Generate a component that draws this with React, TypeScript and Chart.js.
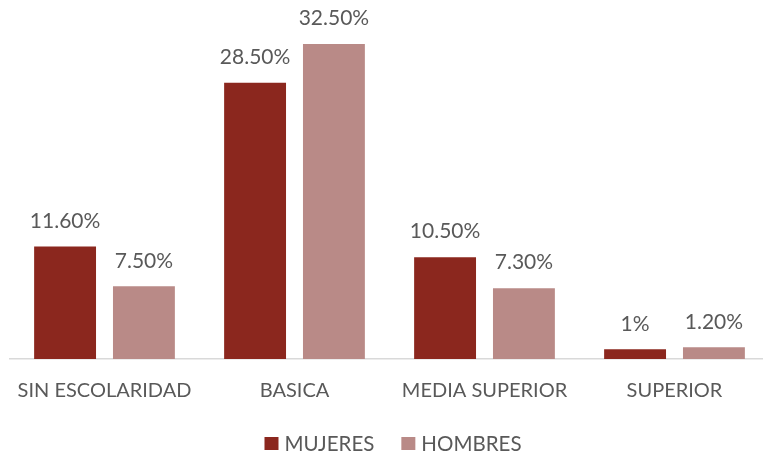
import React, { useEffect, useRef } from "react";
import { Chart, registerables } from "chart.js";

Chart.register(...registerables);

const categories = ["SIN ESCOLARIDAD", "BASICA", "MEDIA SUPERIOR", "SUPERIOR"];
const mujeres = [11.6, 28.5, 10.5, 1];
const hombres = [7.5, 32.5, 7.3, 1.2];
const mujeresLabels = ["11.60%", "28.50%", "10.50%", "1%"];
const hombresLabels = ["7.50%", "32.50%", "7.30%", "1.20%"];

const FONT = "Lato, 'Open Sans', sans-serif";
const TEXT = "#595959";

const labelPlugin = {
  id: "valueLabels",
  afterDatasetsDraw(chart: any) {
    const ctx = chart.ctx;
    const lbls = [mujeresLabels, hombresLabels];
    ctx.save();
    ctx.font = `21px ${FONT}`;
    ctx.fillStyle = TEXT;
    ctx.textAlign = "center";
    ctx.textBaseline = "bottom";
    chart.data.datasets.forEach((ds: any, i: number) => {
      const meta = chart.getDatasetMeta(i);
      meta.data.forEach((bar: any, j: number) => {
        ctx.fillText(lbls[i][j], bar.x, bar.y - 15);
      });
    });
    ctx.restore();
  },
};

const legendPlugin = {
  id: "customLegend",
  afterDraw(chart: any) {
    const ctx = chart.ctx;
    ctx.save();
    ctx.font = `20.5px ${FONT}`;
    ctx.textBaseline = "middle";
    ctx.textAlign = "left";
    const box = 14;
    const gapText = 6;
    const gapItem = 27;
    const items = chart.data.datasets.map((ds: any) => ({
      label: ds.label,
      color: ds.backgroundColor,
      w: ctx.measureText(ds.label).width,
    }));
    const total = items.reduce((s: number, it: any) => s + box + gapText + it.w, 0) + gapItem * (items.length - 1);
    let x = 393 - total / 2;
    const cy = 443.5;
    items.forEach((it: any) => {
      ctx.fillStyle = it.color;
      ctx.fillRect(x, cy - 6.5, box, 13);
      x += box + gapText;
      ctx.fillStyle = TEXT;
      ctx.fillText(it.label, x, cy + 1);
      x += it.w + gapItem;
    });
    ctx.restore();
  },
};

export default function App() {
  const ref = useRef<HTMLCanvasElement>(null);
  useEffect(() => {
    const chart = new Chart(ref.current!, {
      type: "bar",
      data: {
        labels: categories,
        datasets: [
          { label: "MUJERES", data: mujeres, backgroundColor: "#8B271E" },
          { label: "HOMBRES", data: hombres, backgroundColor: "#B98A87" },
        ],
      },
      options: {
        animation: false,
        responsive: true,
        maintainAspectRatio: false,
        datasets: { bar: { categoryPercentage: 0.83, barPercentage: 0.785 } },
        layout: { padding: { left: 9.5, right: 0.5, top: 10, bottom: 39 } },
        scales: {
          x: {
            grid: { display: false },
            border: { color: "#d9d9d9", width: 1.5 },
            ticks: { color: TEXT, font: { size: 20, family: FONT }, padding: 12 },
          },
          y: { display: false, min: 0, max: 36 },
        },
        plugins: {
          legend: { display: false },
          tooltip: { enabled: false },
        },
      },
      plugins: [labelPlugin, legendPlugin],
    });
    return () => chart.destroy();
  }, []);
  return (
    <div style={{ position: "absolute", left: 0, top: 0, width: 763, height: 454, overflow: "hidden" }}>
      <div style={{ position: "relative", width: 770, height: 454 }}>
        <canvas ref={ref} />
      </div>
    </div>
  );
}
